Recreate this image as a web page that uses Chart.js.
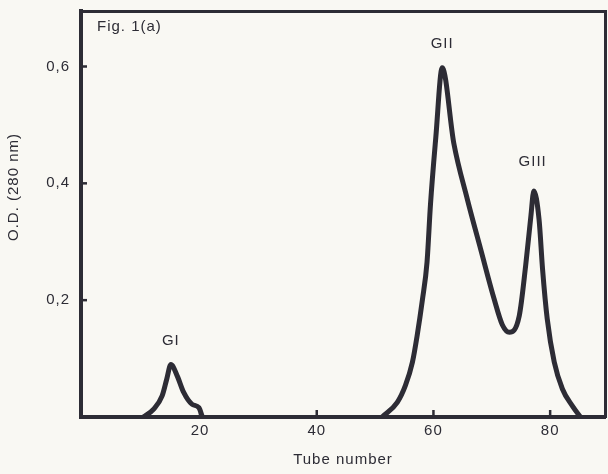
<!DOCTYPE html>
<html lang="en">
<head>
  <meta charset="UTF-8" />
  <title>Fig. 1(a)</title>
  <script src="https://cdn.jsdelivr.net/npm/chart.js"></script>
  <style>
    html, body {
      margin: 0;
      padding: 0;
      background: #f9f8f3;
    }
    .wrap {
      width: 608px;
      height: 474px;
      position: relative;
    }
  </style>
</head>
<body>

<div class="wrap">
  <canvas id="elution"></canvas>
</div>

<script>
  // peak GI (tube number vs O.D. at 280 nm)
  const tubeGI = [10.3, 12.1, 13.5, 14.3, 15.0, 16.1, 17.2, 18.6, 19.8, 20.4];
  const odGI   = [0, 0.014, 0.036, 0.065, 0.09, 0.07, 0.042, 0.022, 0.016, 0];

  // peaks GII and GIII
  const tubeMain = [51.2, 53.8, 55.2, 56.4, 57.2, 58.1, 58.9, 59.5, 60.4, 61.5, 63.5,
                    65.8, 68.1, 70.4, 71.8, 73.0, 74.7, 75.8, 76.7, 77.2, 78.1, 78.7, 79.5,
                    80.7, 82.1, 83.8, 85.2];
  const odMain   = [0, 0.025, 0.054, 0.094, 0.139, 0.2, 0.265, 0.365, 0.478, 0.598, 0.468,
                    0.373, 0.287, 0.202, 0.158, 0.145, 0.173, 0.259, 0.344, 0.387, 0.338, 0.253, 0.168,
                    0.094, 0.048, 0.019, 0];

  const xTicks = [20, 40, 60, 80];
  const yTicks = [0.2, 0.4, 0.6];

  const peakNames = ['GI', 'GII', 'GIII'];
  const peakX     = [15, 61.5, 77];
  const peakY     = [0.13, 0.638, 0.436];

  const ink = '#2d2c35';
  const font = '"Liberation Sans", Arial, sans-serif';

  const toPoints = (xs, ys) => xs.map((x, i) => ({ x: x, y: ys[i] }));

  // paper colour behind everything
  const paper = {
    id: 'paper',
    beforeDraw(chart) {
      const ctx = chart.ctx;
      ctx.save();
      ctx.fillStyle = '#f9f8f3';
      ctx.fillRect(0, 0, chart.width, chart.height);
      ctx.restore();
      ctx.letterSpacing = '1px';
    }
  };

  // inward tick marks, peak names and the figure label
  const extras = {
    id: 'extras',
    afterDatasetsDraw(chart) {
      const { ctx, chartArea, scales } = chart;
      ctx.save();
      ctx.strokeStyle = ink;
      ctx.lineWidth = 2.5;
      xTicks.forEach(v => {
        const px = scales.x.getPixelForValue(v);
        ctx.beginPath();
        ctx.moveTo(px, chartArea.bottom);
        ctx.lineTo(px, chartArea.bottom - 7);
        ctx.stroke();
      });
      yTicks.forEach(v => {
        const py = scales.y.getPixelForValue(v);
        ctx.beginPath();
        ctx.moveTo(chartArea.left, py);
        ctx.lineTo(chartArea.left + 6, py);
        ctx.stroke();
      });

      ctx.fillStyle = ink;
      ctx.letterSpacing = '1px';
      ctx.font = '15px ' + font;
      ctx.textAlign = 'center';
      ctx.textBaseline = 'middle';
      peakNames.forEach((name, i) => {
        ctx.fillText(name, scales.x.getPixelForValue(peakX[i]), scales.y.getPixelForValue(peakY[i]));
      });

      ctx.textAlign = 'left';
      ctx.fillText('Fig. 1(a)', chartArea.left + 16, chartArea.top + 16);

      // y axis title
      ctx.translate(14, 187);
      ctx.rotate(-Math.PI / 2);
      ctx.textAlign = 'center';
      ctx.fillText('O.D. (280 nm)', 0, 0);
      ctx.restore();
    }
  };

  const noPad = s => { s.paddingTop = 0; s.paddingBottom = 0; s.paddingLeft = 0; s.paddingRight = 0; };

  new Chart(document.getElementById('elution'), {
    type: 'line',
    data: {
      datasets: [
        {
          label: 'GI',
          data: toPoints(tubeGI, odGI),
          borderColor: ink,
          borderWidth: 5,
          pointRadius: 0,
          cubicInterpolationMode: 'monotone',
          borderJoinStyle: 'round',
          borderCapStyle: 'round',
          fill: false
        },
        {
          label: 'GII / GIII',
          data: toPoints(tubeMain, odMain),
          borderColor: ink,
          borderWidth: 5,
          pointRadius: 0,
          cubicInterpolationMode: 'monotone',
          borderJoinStyle: 'round',
          borderCapStyle: 'round',
          fill: false
        }
      ]
    },
    options: {
      responsive: true,
      maintainAspectRatio: false,
      animation: false,
      layout: { padding: 0 },
      plugins: {
        legend: { display: false },
        tooltip: { enabled: false }
      },
      scales: {
        x: {
          type: 'linear',
          position: 'bottom',
          min: -0.4,
          max: 89.4,
          afterBuildTicks: s => { s.ticks = xTicks.map(v => ({ value: v })); },
          afterFit: s => { s.height = 57; noPad(s); },
          grid: { display: false, drawTicks: false },
          border: { display: true, color: ink, width: 4 },
          ticks: {
            color: ink,
            padding: 5,
            maxRotation: 0,
            font: { family: font, size: 15 }
          },
          title: {
            display: true,
            text: 'Tube number',
            color: ink,
            font: { family: font, size: 15 },
            padding: { top: 0, bottom: 5 }
          }
        },
        x2: {
          type: 'linear',
          position: 'top',
          min: -0.4,
          max: 89.4,
          afterFit: s => { s.height = 11; noPad(s); },
          grid: { display: false, drawTicks: false },
          border: { display: true, color: ink, width: 3 },
          ticks: { display: false }
        },
        y: {
          type: 'linear',
          position: 'left',
          min: 0,
          max: 0.695,
          afterBuildTicks: s => { s.ticks = yTicks.map(v => ({ value: v })); },
          afterFit: s => { s.width = 81; noPad(s); },
          grid: { display: false, drawTicks: false },
          border: { display: true, color: ink, width: 4 },
          ticks: {
            color: ink,
            padding: 11,
            font: { family: font, size: 15 },
            callback: v => v.toFixed(1).replace('.', ',')
          }
        },
        y2: {
          type: 'linear',
          position: 'right',
          min: 0,
          max: 0.695,
          afterFit: s => { s.width = 3; noPad(s); },
          grid: { display: false, drawTicks: false },
          border: { display: true, color: ink, width: 3 },
          ticks: { display: false }
        }
      }
    },
    plugins: [paper, extras]
  });
</script>
</body>
</html>
